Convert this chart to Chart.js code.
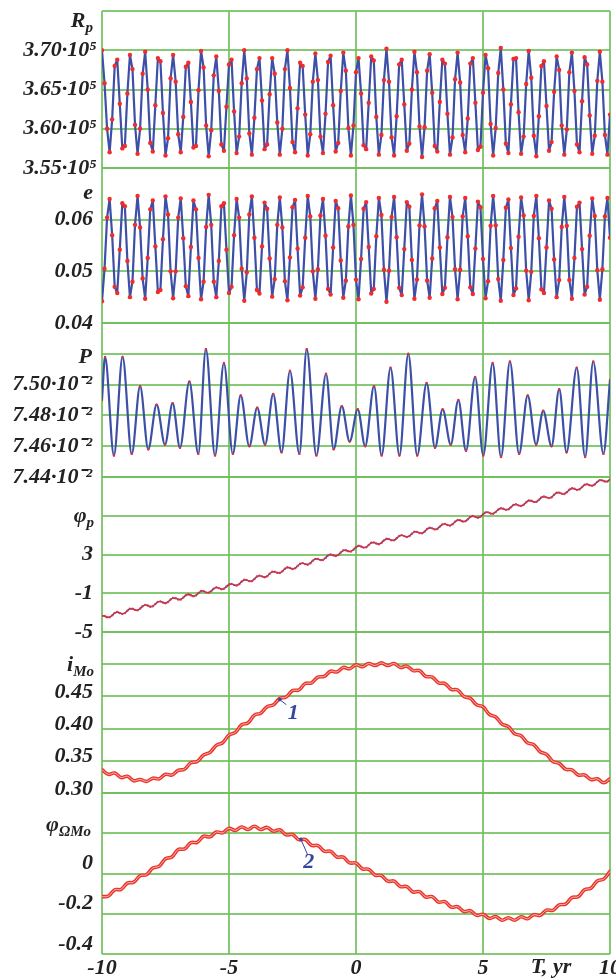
<!DOCTYPE html>
<html><head><meta charset="utf-8">
<script src="https://cdn.jsdelivr.net/npm/chart.js@4/dist/chart.umd.min.js"></script>
<style>
html,body{margin:0;padding:0;background:#fff;}
#wrap{position:relative;width:616px;height:978px;overflow:hidden;background:#fff;}
canvas{position:absolute;left:0;top:0;}
.lbl{position:absolute;font-family:'Liberation Serif','Times New Roman',serif;font-weight:bold;font-style:italic;font-size:22px;color:#222;line-height:26px;white-space:nowrap;z-index:5;}
.lbl sub{font-size:15px;vertical-align:-5px;line-height:0;}
</style></head><body>
<div id="wrap">
<canvas id="c1" width="616" height="978"></canvas>
<canvas id="c2" width="616" height="978"></canvas>
<canvas id="c3" width="616" height="978"></canvas>
<canvas id="c4" width="616" height="978"></canvas>
<canvas id="c5" width="616" height="978"></canvas>
<canvas id="c6" width="616" height="978"></canvas>
<div class="lbl" style="right:523px;top:7px">R<sub>p</sub></div>
<div class="lbl" style="right:523px;top:179px">e</div>
<div class="lbl" style="right:524px;top:343px">P</div>
<div class="lbl" style="right:522px;top:502px">φ<sub>p</sub></div>
<div class="lbl" style="right:522px;top:651px">i<sub>Mo</sub></div>
<div class="lbl" style="right:525px;top:811px">φ<sub>ΩMo</sub></div>
<div class="lbl" style="left:551px;top:953px;transform:translateX(-50%)">T, yr</div>
</div>
<script>
// time grid (years), step 0.1
const T = [-10,-9.9,-9.8,-9.7,-9.6,-9.5,-9.4,-9.3,-9.2,-9.1,
-9,-8.9,-8.8,-8.7,-8.6,-8.5,-8.4,-8.3,-8.2,-8.1,
-8,-7.9,-7.8,-7.7,-7.6,-7.5,-7.4,-7.3,-7.2,-7.1,
-7,-6.9,-6.8,-6.7,-6.6,-6.5,-6.4,-6.3,-6.2,-6.1,
-6,-5.9,-5.8,-5.7,-5.6,-5.5,-5.4,-5.3,-5.2,-5.1,
-5,-4.9,-4.8,-4.7,-4.6,-4.5,-4.4,-4.3,-4.2,-4.1,
-4,-3.9,-3.8,-3.7,-3.6,-3.5,-3.4,-3.3,-3.2,-3.1,
-3,-2.9,-2.8,-2.7,-2.6,-2.5,-2.4,-2.3,-2.2,-2.1,
-2,-1.9,-1.8,-1.7,-1.6,-1.5,-1.4,-1.3,-1.2,-1.1,
-1,-0.9,-0.8,-0.7,-0.6,-0.5,-0.4,-0.3,-0.2,-0.1,
0,0.1,0.2,0.3,0.4,0.5,0.6,0.7,0.8,0.9,
1,1.1,1.2,1.3,1.4,1.5,1.6,1.7,1.8,1.9,
2,2.1,2.2,2.3,2.4,2.5,2.6,2.7,2.8,2.9,
3,3.1,3.2,3.3,3.4,3.5,3.6,3.7,3.8,3.9,
4,4.1,4.2,4.3,4.4,4.5,4.6,4.7,4.8,4.9,
5,5.1,5.2,5.3,5.4,5.5,5.6,5.7,5.8,5.9,
6,6.1,6.2,6.3,6.4,6.5,6.6,6.7,6.8,6.9,
7,7.1,7.2,7.3,7.4,7.5,7.6,7.7,7.8,7.9,
8,8.1,8.2,8.3,8.4,8.5,8.6,8.7,8.8,8.9,
9,9.1,9.2,9.3,9.4,9.5,9.6,9.7,9.8,9.9,
10];

// Rp, units of 1e5 km
const rp = [3.700,3.658,3.600,3.570,3.612,3.680,3.688,3.632,3.575,3.578,3.645,3.694,3.676,3.605,3.568,3.600,3.670,3.698,3.650,3.582,3.571,3.630,3.690,3.686,3.620,3.566,3.588,3.664,
3.694,3.660,3.593,3.570,3.615,3.679,3.684,3.634,3.576,3.578,3.649,3.699,3.678,3.604,3.565,3.598,3.668,3.692,3.648,3.580,3.572,3.628,3.682,3.688,3.622,3.569,3.590,3.658,
3.700,3.664,3.594,3.567,3.614,3.676,3.690,3.636,3.574,3.580,3.644,3.690,3.670,3.608,3.567,3.600,3.676,3.700,3.652,3.583,3.570,3.626,3.684,3.680,3.618,3.566,3.593,3.660,
3.696,3.662,3.590,3.569,3.619,3.685,3.693,3.630,3.571,3.582,3.648,3.697,3.674,3.601,3.566,3.604,3.672,3.690,3.645,3.579,3.574,3.633,3.692,3.687,3.615,3.567,3.592,3.662,
3.702,3.660,3.589,3.566,3.616,3.682,3.688,3.631,3.572,3.581,3.650,3.698,3.672,3.603,3.564,3.602,3.674,3.695,3.646,3.578,3.571,3.634,3.688,3.683,3.619,3.567,3.589,3.663,
3.697,3.659,3.592,3.570,3.613,3.683,3.690,3.633,3.573,3.577,3.646,3.694,3.677,3.606,3.566,3.601,3.671,3.703,3.650,3.581,3.569,3.631,3.689,3.690,3.621,3.568,3.590,3.657,
3.699,3.665,3.591,3.565,3.616,3.680,3.686,3.629,3.572,3.583,3.647,3.692,3.675,3.604,3.567,3.599,3.672,3.697,3.648,3.580,3.570,3.635,3.691,3.682,3.617,3.568,3.591,3.661,
3.698,3.660,3.592,3.567,3.618];

// eccentricity
const ecc = [0.0442,0.0505,0.0604,0.0640,0.0570,0.0470,0.0458,0.0542,0.0632,0.0626,0.0520,0.0450,0.0480,0.0590,0.0646,0.0585,0.0486,0.0447,0.0526,0.0620,0.0637,0.0548,0.0460,0.0464,0.0562,0.0645,0.0610,0.0500,
0.0448,0.0500,0.0604,0.0641,0.0564,0.0471,0.0452,0.0547,0.0637,0.0620,0.0526,0.0446,0.0480,0.0586,0.0648,0.0590,0.0480,0.0450,0.0520,0.0626,0.0632,0.0542,0.0458,0.0470,0.0570,0.0640,0.0604,0.0505,
0.0443,0.0498,0.0610,0.0645,0.0565,0.0464,0.0457,0.0548,0.0633,0.0621,0.0525,0.0451,0.0485,0.0590,0.0643,0.0585,0.0481,0.0444,0.0527,0.0624,0.0638,0.0544,0.0453,0.0469,0.0565,0.0646,0.0606,0.0500,
0.0447,0.0504,0.0608,0.0640,0.0569,0.0466,0.0455,0.0546,0.0636,0.0622,0.0521,0.0449,0.0482,0.0587,0.0647,0.0590,0.0484,0.0446,0.0524,0.0621,0.0634,0.0547,0.0457,0.0466,0.0568,0.0642,0.0609,0.0503,
0.0441,0.0501,0.0605,0.0644,0.0566,0.0468,0.0454,0.0543,0.0634,0.0625,0.0522,0.0447,0.0484,0.0589,0.0649,0.0587,0.0482,0.0449,0.0525,0.0622,0.0636,0.0546,0.0456,0.0468,0.0566,0.0644,0.0605,0.0504,
0.0446,0.0503,0.0606,0.0642,0.0568,0.0469,0.0456,0.0544,0.0635,0.0624,0.0524,0.0448,0.0481,0.0588,0.0646,0.0589,0.0485,0.0443,0.0522,0.0623,0.0639,0.0545,0.0454,0.0467,0.0567,0.0643,0.0608,0.0501,
0.0444,0.0499,0.0607,0.0646,0.0564,0.0465,0.0458,0.0546,0.0637,0.0621,0.0523,0.0450,0.0483,0.0586,0.0644,0.0588,0.0483,0.0447,0.0526,0.0625,0.0633,0.0543,0.0455,0.0470,0.0569,0.0641,0.0607,0.0502,
0.0445,0.0504,0.0606,0.0642,0.0565];

// anomalistic period P (units of 1e-2), read at extrema
const pT = [-10,-9.88,-9.53,-9.19,-8.83,-8.50,-8.18,-7.85,-7.52,-7.22,-6.93,-6.56,-6.21,-5.91,-5.55,-5.20,-4.85,-4.54,-4.20,-3.89,-3.58,-3.26,-2.93,-2.60,-2.23,-1.94,-1.56,-1.18,-0.88,-0.56,-0.25,0.07,0.36,0.71,1.01,1.36,1.71,2.06,2.41,2.78,3.11,3.41,3.73,4.03,4.33,4.69,5.01,5.38,5.71,6.06,6.42,6.76,7.09,7.37,7.70,8.00,8.29,8.69,9.02,9.34,9.74,10];
const pV = [7.490,7.518,7.454,7.518,7.455,7.499,7.458,7.487,7.461,7.488,7.459,7.502,7.455,7.523,7.454,7.514,7.455,7.493,7.460,7.485,7.461,7.494,7.456,7.509,7.455,7.523,7.454,7.507,7.458,7.486,7.463,7.484,7.460,7.499,7.454,7.511,7.454,7.520,7.454,7.501,7.459,7.484,7.461,7.490,7.457,7.505,7.454,7.514,7.453,7.515,7.455,7.493,7.461,7.483,7.460,7.497,7.456,7.511,7.453,7.515,7.455,7.503];

// argument of perigee phi_p
const phiP = [-3.32,-3.35,-3.48,-3.48,-3.28,-3.03,-2.94,-3.04,-3.13,-3.05,
-2.80,-2.59,-2.60,-2.72,-2.76,-2.59,-2.33,-2.20,-2.27,-2.39,
-2.34,-2.11,-1.89,-1.84,-1.96,-2.03,-1.90,-1.64,-1.48,-1.51,
-1.64,-1.65,-1.44,-1.20,-1.11,-1.21,-1.31,-1.22,-0.98,-0.77,
-0.78,-0.91,-0.94,-0.78,-0.52,-0.39,-0.47,-0.58,-0.54,-0.31,
-0.09,-0.03,-0.14,-0.20,-0.06,0.21,0.39,0.36,0.25,0.25,
0.47,0.73,0.82,0.74,0.65,0.75,1.01,1.22,1.23,1.11,
1.09,1.27,1.53,1.68,1.61,1.51,1.57,1.81,2.05,2.11,
2.01,1.95,2.10,2.37,2.55,2.53,2.42,2.43,2.65,2.91,
3.01,2.93,2.85,2.95,3.21,3.43,3.44,3.33,3.31,3.49,
3.76,3.90,3.82,3.71,3.75,3.98,4.21,4.25,4.14,4.06,
4.20,4.46,4.62,4.59,4.46,4.46,4.67,4.91,5.00,4.90,
4.81,4.90,5.14,5.35,5.34,5.22,5.19,5.36,5.63,5.77,
5.70,5.59,5.64,5.88,6.11,6.16,6.05,5.98,6.13,6.39,
6.56,6.53,6.41,6.42,6.63,6.88,6.97,6.88,6.80,6.89,
7.14,7.35,7.35,7.24,7.21,7.38,7.64,7.78,7.72,7.61,
7.66,7.89,8.12,8.18,8.07,8.00,8.14,8.40,8.58,8.55,
8.43,8.43,8.64,8.90,8.99,8.90,8.82,8.91,9.17,9.38,
9.39,9.28,9.25,9.43,9.69,9.84,9.78,9.67,9.73,9.96,
10.20,10.26,10.15,10.09,10.23,10.50,10.68,10.65,10.54,10.54,
10.76];

// time grid (years), step 0.25
const T4 = [-10,-9.75,-9.5,-9.25,-9,-8.75,-8.5,-8.25,-8,-7.75,-7.5,-7.25,-7,-6.75,-6.5,-6.25,-6,-5.75,-5.5,-5.25,
-5,-4.75,-4.5,-4.25,-4,-3.75,-3.5,-3.25,-3,-2.75,-2.5,-2.25,-2,-1.75,-1.5,-1.25,-1,-0.75,-0.5,-0.25,
0,0.25,0.5,0.75,1,1.25,1.5,1.75,2,2.25,2.5,2.75,3,3.25,3.5,3.75,4,4.25,4.5,4.75,
5,5.25,5.5,5.75,6,6.25,6.5,6.75,7,7.25,7.5,7.75,8,8.25,8.5,8.75,9,9.25,9.5,9.75,10];

// inclination i_Mo (curve 1)
const iMo = [0.336,0.329,0.331,0.324,0.326,0.319,0.321,0.318,0.323,0.322,0.329,0.328,0.335,0.337,0.347,0.349,0.359,0.363,0.374,0.378,
0.390,0.394,0.406,0.409,0.421,0.424,0.434,0.437,0.447,0.449,0.459,0.460,0.470,0.471,0.480,0.481,0.489,0.488,0.495,0.493,
0.499,0.496,0.501,0.498,0.502,0.498,0.501,0.495,0.497,0.490,0.490,0.481,0.480,0.471,0.470,0.461,0.460,0.450,0.447,0.437,
0.434,0.422,0.418,0.407,0.403,0.392,0.389,0.378,0.375,0.364,0.360,0.349,0.346,0.337,0.336,0.328,0.328,0.321,0.322,0.316,0.322];

// phi_OmegaMo (curve 2)
const phiOm = [-0.115,-0.112,-0.081,-0.079,-0.048,-0.043,-0.011,-0.006,0.027,0.036,0.073,0.082,0.119,0.122,0.153,0.155,0.185,0.182,0.206,0.202,
0.224,0.214,0.231,0.219,0.235,0.219,0.229,0.210,0.217,0.192,0.194,0.168,0.169,0.140,0.139,0.111,0.110,0.082,0.081,0.053,
0.052,0.023,0.021,-0.008,-0.010,-0.038,-0.038,-0.065,-0.065,-0.092,-0.090,-0.117,-0.115,-0.142,-0.140,-0.167,-0.165,-0.189,-0.185,-0.208,
-0.203,-0.223,-0.214,-0.232,-0.220,-0.232,-0.215,-0.225,-0.205,-0.208,-0.182,-0.183,-0.156,-0.152,-0.120,-0.115,-0.081,-0.073,-0.037,-0.028,0.010];

// ticks
const xTicks = [-10,-5,0,5,10];
const xTickLabels = ['-10','-5','0','5','10'];
const rpTicks = [3.55,3.60,3.65,3.70,3.75];
const rpTickLabels = ['3.55·10⁵','3.60·10⁵','3.65·10⁵','3.70·10⁵',''];
const eTicks = [0.04,0.05,0.06,0.07];
const eTickLabels = ['0.04','0.05','0.06',''];
const pTicks = [7.44,7.46,7.48,7.50,7.52,7.54];
const pTickLabels = ['7.44·10⁻²','7.46·10⁻²','7.48·10⁻²','7.50·10⁻²','',''];
const phiTicks = [-5,-1,3,7,11];
const phiTickLabels = ['-5','-1','3','',''];
const iTicks = [0.30,0.35,0.40,0.45,0.50,0.55];
const iTickLabels = ['0.30','0.35','0.40','0.45','',''];
const omTicks = [-0.4,-0.2,0,0.2,0.4];
const omTickLabels = ['-0.4','-0.2','0','',''];

// curve markers "1" and "2" (data coordinates)
const note1 = {text:'1', x0:-3.0, y0:0.445, x1:-2.74, y1:0.437, xt:-2.47, yt:0.424};
const note2 = {text:'2', x0:-2.17, y0:0.170, x1:-1.90, y1:0.092, xt:-1.86, yt:0.056};

const GRID = 'rgba(108,190,88,0.82)';
const FONT = {family:"'Liberation Serif','Times New Roman',serif", size:22, weight:'bold', style:'italic'};
const BLUE = '#3d4fa6', RED = '#f02c2c';
function pts(xs, ys){ return xs.map((x,i)=>({x:x, y:ys[i]})); }

function notePlugin(n){
  return {
    id:'note'+n.text,
    afterDatasetsDraw(chart){
      const ctx = chart.ctx, xs = chart.scales.x, ys = chart.scales.y;
      const ax = xs.getPixelForValue(n.x0), ay = ys.getPixelForValue(n.y0);
      const bx = xs.getPixelForValue(n.x1), by = ys.getPixelForValue(n.y1);
      ctx.save();
      ctx.strokeStyle = '#3346a0'; ctx.lineWidth = 1;
      ctx.beginPath(); ctx.moveTo(ax, ay); ctx.lineTo(bx, by); ctx.stroke();
      ctx.fillStyle = '#3346a0';
      ctx.beginPath(); ctx.arc(ax, ay, 1.8, 0, Math.PI*2); ctx.fill();
      ctx.font = "italic bold 22px 'Liberation Serif', serif";
      ctx.textAlign = 'center'; ctx.textBaseline = 'middle';
      ctx.fillText(n.text, xs.getPixelForValue(n.xt), ys.getPixelForValue(n.yt));
      ctx.restore();
    }
  };
}

function panel(id, top, bottom, yMin, yMax, yTicks, yLabels, datasets, opts){
  opts = opts || {};
  const last = !!opts.last;
  return new Chart(document.getElementById(id), {
    type:'line',
    data:{datasets:datasets},
    options:{
      responsive:false, animation:false, events:[],
      layout:{autoPadding:false, padding:{left:0, right:6, top:top, bottom: last ? 978-bottom-24 : 978-bottom}},
      plugins:{legend:{display:false}, tooltip:{enabled:false}},
      elements:{line:{borderJoinStyle:'round', borderCapStyle:'round'}},
      scales:{
        x:{type:'linear', min:-10, max:10,
          afterBuildTicks: ax => { ax.ticks = xTicks.map(v=>({value:v})); },
          afterFit: ax => { ax.height = last ? 24 : 0; ax.paddingLeft = 0; ax.paddingRight = 0; },
          grid:{color:GRID, lineWidth:2, drawTicks:false},
          border:{display:false},
          ticks:{display:last, autoSkip:false, maxRotation:0, padding:1, color:'#222', font:FONT,
            callback:(v,i)=>xTickLabels[i]}
        },
        y:{type:'linear', min:yMin, max:yMax,
          afterBuildTicks: ax => { ax.ticks = yTicks.map(v=>({value:v})); },
          afterFit: ax => { ax.width = 102; ax.paddingTop = 0; ax.paddingBottom = 0; },
          grid:{color:GRID, lineWidth:2, drawTicks:false},
          border:{display:false},
          ticks:{autoSkip:false, padding: (opts.pad!==undefined?opts.pad:9), labelOffset: opts.lo||0, color:'#222', font:FONT,
            callback:(v,i)=>yLabels[i]}
        }
      }
    },
    plugins: opts.plugins || []
  });
}

panel('c1', 11, 168, 3.55, 3.75, rpTicks, rpTickLabels, [
  {data:pts(T, rp), borderColor:BLUE, borderWidth:2.2, pointRadius:2.2, pointBackgroundColor:RED, pointBorderWidth:0, tension:0}
], {pad:5});

panel('c2', 168, 323, 0.04, 0.07, eTicks, eTickLabels, [
  {data:pts(T, ecc), borderColor:BLUE, borderWidth:2.2, pointRadius:2.2, pointBackgroundColor:RED, pointBorderWidth:0, tension:0}
], {pad:9});

panel('c3', 323, 477, 7.44, 7.54, pTicks, pTickLabels, [
  {data:pts(pT, pV), borderColor:BLUE, borderWidth:2.2, pointRadius:1.2, pointBackgroundColor:RED, pointBorderWidth:0, cubicInterpolationMode:'monotone'}
], {pad:10});

panel('c4', 477, 632, -5, 11, phiTicks, phiTickLabels, [
  {data:pts(T, phiP), borderColor:'#5a3f9a', borderWidth:1.5, pointRadius:1.2, pointBackgroundColor:'rgba(235,50,50,0.85)', pointBorderWidth:0, tension:0}
], {pad:9});

panel('c5', 632, 793, 0.30, 0.55, iTicks, iTickLabels, [
  {data:pts(T4, iMo), borderColor:'#fbb8b0', borderWidth:1, pointRadius:0, tension:0.4},
  {data:pts(T4, iMo), borderColor:'#ea352c', borderWidth:3.6, pointRadius:0, tension:0.4}
], {pad:9, lo:-4, plugins:[notePlugin(note1)]});

panel('c6', 793, 954, -0.4, 0.4, omTicks, omTickLabels, [
  {data:pts(T4, phiOm), borderColor:'#fbb8b0', borderWidth:1, pointRadius:0, tension:0.4},
  {data:pts(T4, phiOm), borderColor:'#ea352c', borderWidth:3.6, pointRadius:0, tension:0.4}
], {pad:9, lo:-10, last:true, plugins:[notePlugin(note2)]});
</script>
</body></html>
